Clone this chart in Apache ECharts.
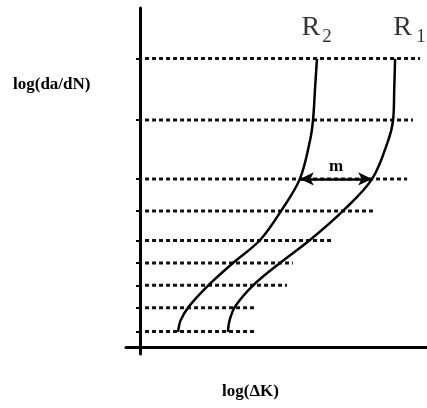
<!DOCTYPE html>
<html><head><meta charset="utf-8">
<script src="https://cdn.jsdelivr.net/npm/echarts@6/dist/echarts.min.js"></script>
<style>html,body{margin:0;padding:0;background:#fff}#c{width:427px;height:408px}</style>
</head><body><div id="c"></div>
<script>
// Horizontal dotted reference levels: y value and right end (x) of each
const levelY   = [10.3, 8.1, 6.0, 4.85, 3.8, 3.0, 2.2, 1.4, 0.55];
const levelEnd = [10.0, 9.75, 9.54, 8.32, 6.89, 5.46, 5.25, 4.11, 4.11];
const levelStart = 0.18;
// Curve R2 (x = log ΔK, y = log da/dN)
const r2x = [6.32, 6.25, 6.18, 6.07, 5.71, 5.04, 4.29, 3.32, 2.45, 1.75, 1.45, 1.36];
const r2y = [10.29, 9.2, 8.11, 7.36, 6.0, 4.86, 3.82, 3.0, 2.21, 1.45, 0.95, 0.54];
// Curve R1
const r1x = [9.11, 9.08, 9.04, 8.86, 8.29, 7.25, 6.07, 5.0, 4.05, 3.4, 3.2, 3.14];
const r1y = [10.29, 9.2, 8.11, 7.36, 6.0, 4.86, 3.82, 3.0, 2.21, 1.45, 0.95, 0.54];
// Distance arrow m between the curves
const arrowY = 6.0, arrowFrom = 5.71, arrowTo = 8.29;
const curveNames = ['R', '2', 'R', '1'];

const chart = echarts.init(document.getElementById('c'));
const serif = '"Liberation Serif", "DejaVu Serif", serif';
const series = [];
levelY.forEach((y, i) => {
  series.push({
    type: 'line', data: [[levelStart, y], [levelEnd[i], y]],
    symbol: 'none', silent: true,
    lineStyle: { color: '#111', width: 3, type: [4, 3], cap: 'butt' }
  });
});
series.push({
  type: 'line', data: r2x.map((x, i) => [x, r2y[i]]), smooth: 0.35, symbol: 'none',
  lineStyle: { color: '#000', width: 2.5 }
});
series.push({
  type: 'line', data: r1x.map((x, i) => [x, r1y[i]]), smooth: 0.35, symbol: 'none',
  lineStyle: { color: '#000', width: 2.5 },
  markLine: {
    silent: true, symbol: ['arrow', 'arrow'], symbolSize: [10, 14],
    lineStyle: { color: '#000', width: 2.5, type: 'solid' },
    label: { show: true, position: 'middle', formatter: 'm', color: '#000',
      fontFamily: serif, fontSize: 17, fontWeight: 'bold', distance: 4 },
    data: [[{ coord: [arrowFrom, arrowY] }, { coord: [arrowTo, arrowY] }]]
  }
});
// Curve name labels
const labelPos = [[6.1, 11.39, 28], [6.68, 11.05, 19], [9.38, 11.39, 28], [10.04, 11.05, 19]];
series.push({
  type: 'scatter', symbolSize: 0, silent: true,
  data: labelPos.map((p, i) => ({ value: [p[0], p[1]], name: curveNames[i],
    label: { show: true, position: 'inside', formatter: curveNames[i], color: '#000',
      fontFamily: serif, fontSize: p[2] } }))
});

chart.setOption({
  animation: false,
  grid: { left: 126, top: 8, width: 301, height: 346 },
  xAxis: {
    type: 'value', min: -0.5, max: 10.25,
    axisLine: { onZero: true, lineStyle: { color: '#000', width: 3 } },
    axisTick: { show: false }, axisLabel: { show: false }, splitLine: { show: false }
  },
  yAxis: {
    type: 'value', min: -0.25, max: 12.1,
    axisLine: { onZero: true, lineStyle: { color: '#000', width: 3 } },
    axisTick: { show: true, customValues: levelY, length: 4, lineStyle: { color: '#000', width: 2 } },
    axisLabel: { show: false }, splitLine: { show: false }
  },
  graphic: [
    { type: 'text', left: 13, top: 76, style: { text: 'log(da/dN)', fill: '#000',
      font: 'bold 17px ' + serif } },
    { type: 'text', left: 222, top: 383, style: { text: 'log(ΔK)', fill: '#000',
      font: 'bold 17px ' + serif } }
  ],
  series: series
});
</script></body></html>
